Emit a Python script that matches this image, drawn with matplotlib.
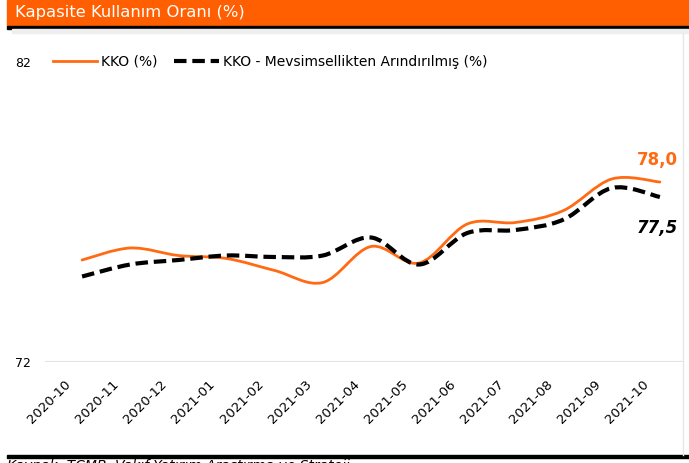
import matplotlib
matplotlib.use('Agg')
import matplotlib.pyplot as plt
import matplotlib.transforms as mtransforms
from matplotlib.path import Path
from matplotlib.patches import PathPatch, Rectangle
from matplotlib.lines import Line2D

months = ['2020-10', '2020-11', '2020-12', '2021-01', '2021-02', '2021-03', '2021-04',
          '2021-05', '2021-06', '2021-07', '2021-08', '2021-09', '2021-10']
kko = [75.4, 75.8, 75.55, 75.45, 75.05, 74.65, 75.85, 75.3, 76.6, 76.65, 77.05, 78.1, 78.0]
kko_sa = [74.85, 75.25, 75.4, 75.55, 75.5, 75.55, 76.15, 75.25, 76.3, 76.4, 76.75, 77.8, 77.5]
y_ticks = [72, 82]

ORANGE = '#FF6A13'
W, H = 689, 463


def smooth_path(xs, ys):
    # excel-style smoothed line as cubic bezier segments
    pts = list(zip(xs, ys))
    verts = [pts[0]]
    codes = [Path.MOVETO]
    n = len(pts)
    for i in range(n - 1):
        p0 = pts[max(i - 1, 0)]
        p1 = pts[i]
        p2 = pts[i + 1]
        p3 = pts[min(i + 2, n - 1)]
        c1 = (p1[0] + (p2[0] - p0[0]) / 6, p1[1] + (p2[1] - p0[1]) / 6)
        c2 = (p2[0] - (p3[0] - p1[0]) / 6, p2[1] - (p3[1] - p1[1]) / 6)
        verts += [c1, c2, p2]
        codes += [Path.CURVE4] * 3
    return Path(verts, codes)


fig = plt.figure(figsize=(W / 100, H / 100), dpi=100)

# title bar
fig.patches.append(Rectangle((7 / W, 1 - 26 / H), 1, 26 / H, transform=fig.transFigure,
                             color='#FF5F00', zorder=0))
fig.patches.append(Rectangle((7 / W, 1 - 29 / H), 1, 3 / H, transform=fig.transFigure,
                             color='black', zorder=0))
fig.patches.append(Rectangle((12 / W, 1 - 33 / H), 1, 4 / H, transform=fig.transFigure,
                             color='#eeeeee', zorder=0))
fig.text(15 / W, 1 - 13 / H, 'Kapasite Kullanım Oranı (%)', color='white',
         fontsize=11.8, va='center', ha='left')

# right border and footer
fig.lines.append(Line2D([683 / W, 683 / W], [1 - 33 / H, 1 - 455 / H],
                        transform=fig.transFigure, color='#e6e6e6', lw=1))
fig.patches.append(Rectangle((7 / W, 1 - 458 / H), 1, 3 / H, transform=fig.transFigure,
                             color='black', zorder=0))
fig.text(7 / W, 1 - 459 / H, 'Kaynak: TCMB, Vakıf Yatırım Araştırma ve Strateji',
         fontsize=10, style='italic', va='top', ha='left')

ax = fig.add_axes([45 / W, (H - 362) / H, 638 / W, 300 / H])
x = list(range(len(months)))
ax.set_xlim(-0.77, 12.48)
ax.set_ylim(72, 82)

ax.add_patch(PathPatch(smooth_path(x, kko), fill=False, edgecolor=ORANGE, lw=2,
                       capstyle='round', clip_on=False, zorder=3))
ax.add_patch(PathPatch(smooth_path(x, kko_sa), fill=False, edgecolor='black', lw=3,
                       linestyle=(0, (3.0, 1.4)), clip_on=False, zorder=4))

ax.text(x[-1] - 0.05, kko[-1] + 0.45, '78,0', color=ORANGE, fontsize=12,
        fontweight='bold', ha='center', va='bottom')
ax.text(x[-1] - 0.05, kko_sa[-1] - 0.75, '77,5', color='black', fontsize=12,
        fontweight='bold', style='italic', ha='center', va='top')

ax.axhline(72, color='#e3e3e3', lw=1.5, zorder=1)
for s in ax.spines.values():
    s.set_visible(False)
ax.set_yticks(y_ticks)
ax.set_yticklabels([str(v) for v in y_ticks], fontsize=9)
ax.tick_params(axis='y', length=0, pad=10)
ax.set_xticks(x)
ax.set_xticklabels(months, rotation=45, ha='right', rotation_mode='anchor', fontsize=9.5)
ax.tick_params(axis='x', length=0, pad=11)
shift = mtransforms.ScaledTranslation(-18 / 100, 0, fig.dpi_scale_trans)
for lbl in ax.get_xticklabels():
    lbl.set_transform(lbl.get_transform() + shift)

handles = [Line2D([], [], color=ORANGE, lw=2),
           Line2D([], [], color='black', lw=3, linestyle=(0, (3.0, 1.4)))]
ax.legend(handles, ['KKO (%)', 'KKO - Mevsimsellikten Arındırılmış (%)'],
          loc='center left', bbox_to_anchor=(2 / 638, 1.0), ncol=2, frameon=False,
          fontsize=10, handlelength=3.2, handletextpad=0.3, columnspacing=1.2,
          borderaxespad=0)

fig.savefig('out.png', dpi=100)
